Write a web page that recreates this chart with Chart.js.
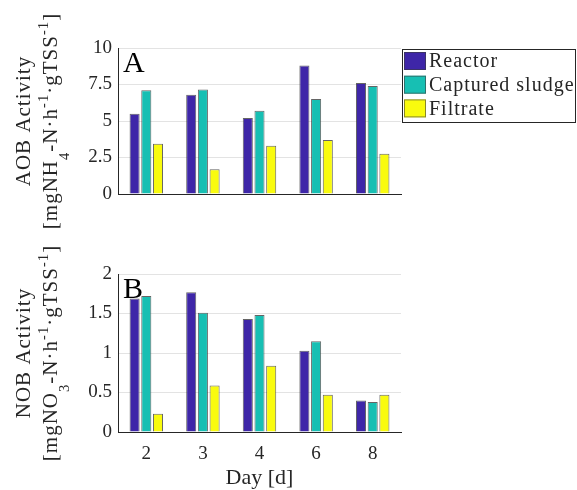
<!DOCTYPE html>
<html>
<head>
<meta charset="utf-8">
<script src="https://cdn.jsdelivr.net/npm/chart.js@4.4.0/dist/chart.umd.min.js"></script>
<style>
html, body { margin: 0; padding: 0; background: #fff; }
#wrap { position: relative; width: 577px; height: 490px; overflow: hidden; }
canvas { position: absolute; left: 0; }
#aob { top: 0; }
#nob { top: 235px; }
</style>
</head>
<body>
<div id="wrap">
  <canvas id="aob" width="577" height="240"></canvas>
  <canvas id="nob" width="577" height="255"></canvas>
</div>
<script>
// Data
const days = ['2', '3', '4', '6', '8'];
const seriesNames = ['Reactor', 'Captured sludge', 'Filtrate'];
const seriesColors = ['#3e26a8', '#17bfb3', '#f9fb0e'];

const aobReactor = [5.5, 6.8, 5.2, 8.8, 7.6];
const aobCaptured = [7.1, 7.15, 5.7, 6.5, 7.4];
const aobFiltrate = [3.45, 1.7, 3.3, 3.7, 2.75];

const nobReactor = [1.69, 1.77, 1.43, 1.03, 0.40];
const nobCaptured = [1.72, 1.51, 1.48, 1.15, 0.38];
const nobFiltrate = [0.23, 0.59, 0.84, 0.47, 0.47];

const aobTicks = [0, 2.5, 5, 7.5, 10];
const nobTicks = [0, 0.5, 1, 1.5, 2];

const aobTitle = [
    [{ t: 'AOB Activity' }],
    [{ t: '[mgNH' }, { t: '4', sub: true }, { t: '-N·h' }, { t: '-1', sup: true },
     { t: '·gTSS' }, { t: '-1', sup: true }, { t: ']' }]
];
const nobTitle = [
    [{ t: 'NOB Activity' }],
    [{ t: '[mgNO' }, { t: '3', sub: true }, { t: '-N·h' }, { t: '-1', sup: true },
     { t: '·gTSS' }, { t: '-1', sup: true }, { t: ']' }]
];

const FONT = '"Liberation Serif", "Times New Roman", serif';
const INK = '#262626';

function buildDatasets(values) {
    return values.map((v, i) => ({
        label: seriesNames[i],
        data: v,
        backgroundColor: seriesColors[i],
        borderColor: 'rgba(50,50,50,0.75)',
        borderWidth: 1,
        categoryPercentage: 0.62,
        barPercentage: 0.86
    }));
}

// rotated axis title with sub/superscripts
function drawRichLine(ctx, parts, x, yMid, size) {
    ctx.save();
    ctx.letterSpacing = '1px';
    const widths = parts.map(p => {
        ctx.font = ((p.sub || p.sup) ? size * 0.7 : size) + 'px ' + FONT;
        return ctx.measureText(p.t).width;
    });
    const total = widths.reduce((a, b) => a + b, 0);
    ctx.translate(x, yMid);
    ctx.rotate(-Math.PI / 2);
    ctx.fillStyle = INK;
    ctx.textBaseline = 'alphabetic';
    ctx.textAlign = 'left';
    let cx = -total / 2;
    parts.forEach((p, i) => {
        ctx.font = ((p.sub || p.sup) ? size * 0.7 : size) + 'px ' + FONT;
        const dy = p.sub ? size * 0.55 : (p.sup ? -size * 0.45 : 0);
        ctx.fillText(p.t, cx, dy);
        cx += widths[i];
    });
    ctx.restore();
}

const decorations = {
    id: 'decorations',
    afterDraw(chart, args, opts) {
        const ctx = chart.ctx;
        const area = chart.chartArea;
        const yMid = (area.top + area.bottom) / 2;

        // y axis title, two lines
        drawRichLine(ctx, opts.title[0], 30, yMid, 21);
        drawRichLine(ctx, opts.title[1], 57, yMid, 21);

        // panel letter
        ctx.save();
        ctx.fillStyle = '#000';
        ctx.font = '30px ' + FONT;
        ctx.textBaseline = 'alphabetic';
        ctx.fillText(opts.panel, area.left + 5, area.top + 24);
        ctx.restore();

        if (!opts.legend) return;
        // boxed legend at the top right
        const x0 = area.right + 1, y0 = 49, w = 174, h = 73;
        ctx.save();
        ctx.fillStyle = '#fff';
        ctx.fillRect(x0, y0, w, h);
        ctx.strokeStyle = INK;
        ctx.lineWidth = 1;
        ctx.strokeRect(x0 + 0.5, y0 + 0.5, w - 1, h);
        ctx.letterSpacing = '1px';
        chart.data.datasets.forEach((ds, i) => {
            const by = y0 + 3 + i * 23.7;
            ctx.fillStyle = ds.backgroundColor;
            ctx.fillRect(x0 + 2, by, 22, 18);
            ctx.strokeStyle = 'rgba(60,60,60,0.6)';
            ctx.strokeRect(x0 + 2.5, by + 0.5, 21, 17);
            ctx.fillStyle = INK;
            ctx.font = '20px ' + FONT;
            ctx.textBaseline = 'middle';
            ctx.fillText(ds.label, x0 + 27, by + 10);
        });
        ctx.restore();
    }
};

function makeOptions(ticks, titleLines, panel, opts) {
    return {
        responsive: false,
        animation: false,
        devicePixelRatio: 1,
        layout: { padding: { top: opts.padTop, right: 176, left: 0, bottom: 0 } },
        plugins: {
            legend: { display: false },
            tooltip: { enabled: false },
            decorations: { title: titleLines, panel: panel, legend: opts.legend }
        },
        scales: {
            x: {
                grid: { display: false },
                border: { display: true, color: INK, width: 1 },
                ticks: {
                    display: opts.showX,
                    color: INK,
                    padding: 3,
                    font: { family: FONT, size: 19 }
                },
                title: {
                    display: opts.showX,
                    text: 'Day [d]',
                    color: INK,
                    padding: { top: 0, bottom: -1 },
                    font: { family: FONT, size: 22 }
                },
                afterFit(scale) { scale.height = opts.xHeight; }
            },
            y: {
                min: ticks[0],
                max: ticks[ticks.length - 1],
                afterBuildTicks(scale) { scale.ticks = ticks.map(v => ({ value: v })); },
                grid: { color: '#e3e3e3', lineWidth: 1, drawTicks: false },
                border: { display: true, color: INK, width: 1 },
                ticks: {
                    color: INK,
                    padding: 6,
                    font: { family: FONT, size: 19 },
                    callback: value => String(value)
                },
                afterFit(scale) { scale.width = 118; }
            }
        }
    };
}

new Chart(document.getElementById('aob'), {
    type: 'bar',
    data: { labels: days, datasets: buildDatasets([aobReactor, aobCaptured, aobFiltrate]) },
    options: makeOptions(aobTicks, aobTitle, 'A', { padTop: 48, xHeight: 46, showX: false, legend: true }),
    plugins: [decorations]
});

new Chart(document.getElementById('nob'), {
    type: 'bar',
    data: { labels: days, datasets: buildDatasets([nobReactor, nobCaptured, nobFiltrate]) },
    options: makeOptions(nobTicks, nobTitle, 'B', { padTop: 39, xHeight: 58, showX: true, legend: false }),
    plugins: [decorations]
});
</script>
</body>
</html>
